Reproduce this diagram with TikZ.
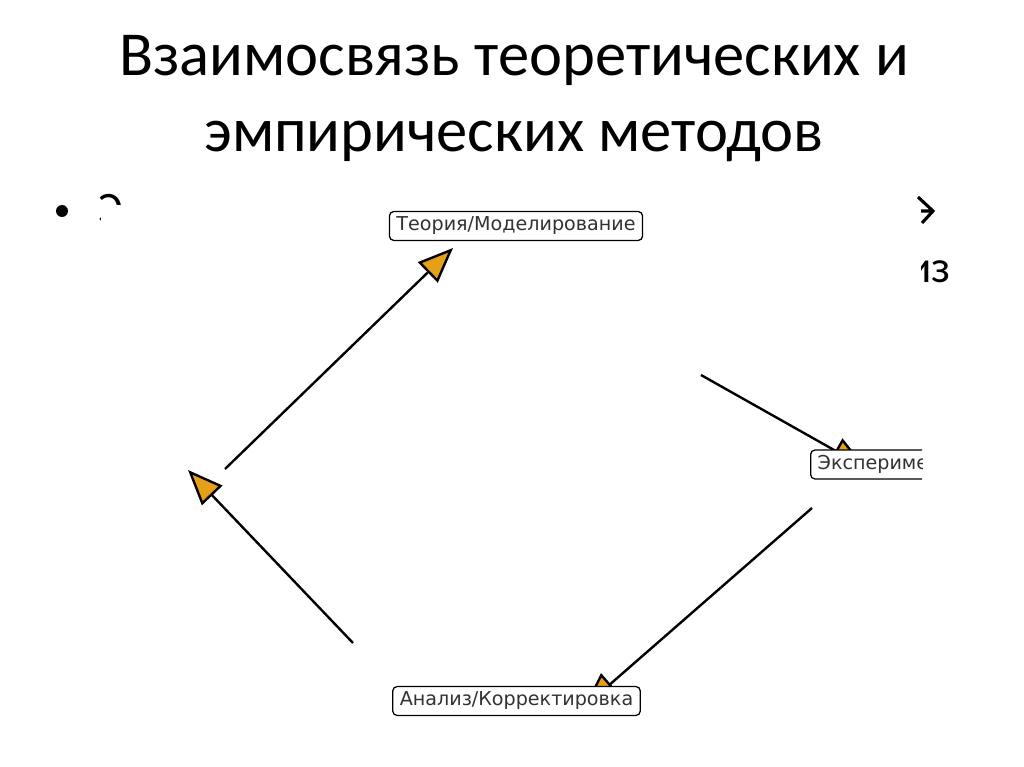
\documentclass[tikz,border=0pt]{standalone}
\usepackage{fontspec}
\setmainfont{Carlito}
\newfontfamily\diagfont{DejaVu Sans}
\usetikzlibrary{arrows.meta,positioning}
\definecolor{arrorange}{RGB}{229,160,24}
\definecolor{boxtext}{RGB}{50,50,50}

\begin{document}
\begin{tikzpicture}[
  x=0.025cm,y=-0.025cm,
  box/.style={draw=black,line width=0.9pt,rounded corners=3pt,fill=white,
    text=boxtext,font=\diagfont\fontsize{13.6}{16}\selectfont,
    inner xsep=5pt,inner ysep=0pt,minimum height=20.5pt},
  arr/.style={-{Triangle[length=25pt,width=20pt,fill=arrorange]},line width=1.7pt,black},
]
\useasboundingbox (0,0) rectangle (1024,767);
% ---- title ----
\node[font=\fontsize{44.5}{54.6}\selectfont,align=center,anchor=base] (title) at (514,152)
  {Взаимосвязь теоретических и\\эмпирических методов};
% ---- bullet text behind the picture ----
\fill (62,211) circle (6);
\node[font=\fontsize{32}{38}\selectfont,anchor=base west,inner sep=0pt] (frag1) at (98,224) {Э};
\node[font=\fontsize{32}{38}\selectfont,anchor=base east,inner sep=0pt] (frag2) at (951,282) {из};
\draw[line width=2.2pt] (918,197) -- (933,211) -- (922,223) (912,211) -- (933,211);
\fill[white] (101,205) rectangle (921,745);
% ---- connectors ----
\coordinate (s1) at (225,469); \coordinate (e1) at (453,248);
\coordinate (s2) at (353,643); \coordinate (e2) at (188,470);
\coordinate (s3) at (701,375); \coordinate (e3) at (866,468);
\coordinate (s4) at (812,508); \coordinate (e4) at (584,707);
\draw[arr] (s1) -- (e1);
\draw[arr] (s2) -- (e2);
\draw[arr] (s3) -- (e3);
\draw[arr] (s4) -- (e4);
% ---- nodes ----
\node[box] (theory) at (516,226) {Теория/Моделирование};
\node[box] (analysis) at (516.5,701) {Анализ/Корректировка};
\begin{scope}
\clip (0,0) rectangle (922,767);
\node[box,anchor=west] (experiment) at (810,464.5) {Эксперименты};
\end{scope}
\end{tikzpicture}
\end{document}
